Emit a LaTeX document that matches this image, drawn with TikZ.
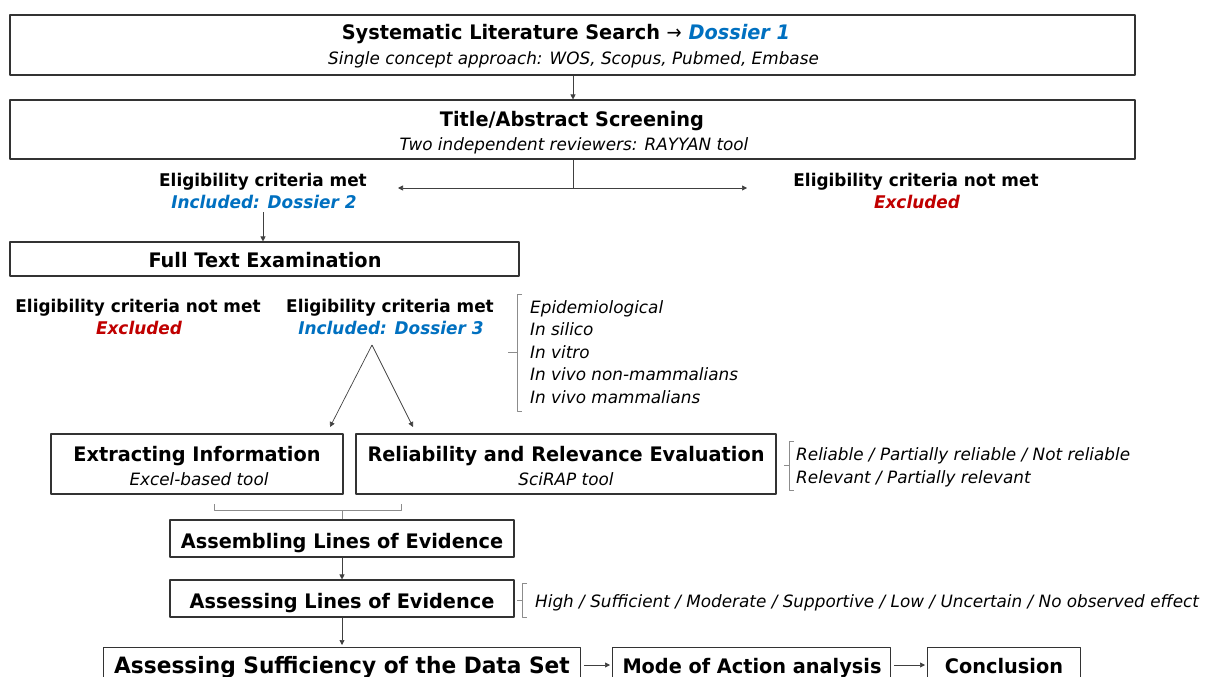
\documentclass[tikz,border=0pt]{standalone}
\usepackage{fontspec}
\setmainfont[FakeStretch=0.9,
  BoldFeatures={FakeStretch=0.965},
  ItalicFeatures={FakeStretch=0.99},
  BoldItalicFeatures={FakeStretch=0.965}]{DejaVu Sans}
\usetikzlibrary{arrows.meta,positioning}
\definecolor{dossierblue}{HTML}{0070C0}
\definecolor{exclred}{HTML}{C00000}
\newcommand\ttlfont{\fontsize{20}{24}\selectfont\bfseries}
\newcommand\subfont{\fontsize{17}{22}\selectfont\itshape}
\newcommand\lblfont{\fontsize{17.5}{22}\selectfont\bfseries}
\begin{document}
\begin{tikzpicture}[x=1pt,y=-1pt,>={Triangle[length=5pt,width=5pt]},line join=round,
    box/.style={draw=black!80,line width=1.1pt,inner sep=0pt},
    ttl/.style={anchor=base,inner sep=0pt,font=\ttlfont},
    subt/.style={anchor=base,inner sep=0pt,font=\subfont},
    lbl/.style={anchor=base,inner sep=0pt,font=\lblfont},
    incl/.style={text=dossierblue,font=\lblfont\itshape},
    excl/.style={text=exclred,font=\lblfont\itshape},
    listtxt/.style={anchor=base west,inner sep=0pt,font=\subfont},
    flow/.style={->,draw=black!75,line width=0.7pt},
    brace/.style={draw=black!45,line width=0.8pt}]
  \useasboundingbox (0,0) rectangle (1210,677);
  \clip (0,0) rectangle (1210,677);
  % search and screening
  \node[box,minimum width=1125,minimum height=60] (search) at (572.5,45) {};
  \node[ttl] (searcht) at (566,40) {Systematic Literature Search {\mdseries→} \textcolor{dossierblue}{\itshape Dossier 1}};
  \node[subt] (searchs) at (573.5,64) {Single concept approach: WOS, Scopus, Pubmed, Embase};
  \node[box,minimum width=1125,minimum height=59] (screen) at (572.5,129.5) {};
  \node[ttl] (screent) at (572,126) {Title/Abstract Screening};
  \node[subt] (screens) at (574,150) {Two independent reviewers: RAYYAN tool};
  \draw[flow] (search.south -| 573,0) -- (screen.north -| 573,0);
  % first split
  \node[lbl] (met1) at (263,186) {Eligibility criteria met};
  \node[lbl,incl] (inc1) at (264,208) {Included: Dossier 2};
  \node[lbl] (notmet1) at (916,186) {Eligibility criteria not met};
  \node[lbl,excl] (exc1) at (917,208) {Excluded};
  \coordinate (split) at (573,188);
  \coordinate (splitL) at (398,188);
  \coordinate (splitR) at (747,188);
  \draw[draw=black!75,line width=0.7pt] (screen.south -| split) -- (split);
  \draw[flow] (split) -- (splitL);
  \draw[flow] (split) -- (splitR);
  % full text
  \node[box,minimum width=509,minimum height=34] (full) at (264.5,259) {};
  \node[ttl] (fullt) at (265,267) {Full Text Examination};
  \draw[flow] (inc1.south -| 263,0) ++(0,4) -- (full.north -| 263,0);
  \node[lbl] (notmet2) at (138,312) {Eligibility criteria not met};
  \node[lbl,excl] (exc2) at (139,334) {Excluded};
  \node[lbl] (met2) at (390,312) {Eligibility criteria met};
  \node[lbl,incl] (inc2) at (391,334) {Included: Dossier 3};
  % study types
  \draw[brace] (522,294) -- (517,294) -- (517,411) -- (522,411) (517,352) -- (508,352);
  \foreach \t [count=\i] in {Epidemiological,In silico,In vitro,In vivo non-mammalians,In vivo mammalians}
    \node[listtxt] (type\i) at (530,313+22.5*\i-22.5) {\t};
  % extraction and evaluation
  \node[box,minimum width=292,minimum height=60] (extract) at (197,464) {};
  \node[ttl] (extractt) at (197,461) {Extracting Information};
  \node[subt] (extracts) at (199,485) {Excel-based tool};
  \node[box,minimum width=420,minimum height=60] (rel) at (566,464) {};
  \node[ttl] (relt) at (566,461) {Reliability and Relevance Evaluation};
  \node[subt] (rels) at (566,485) {SciRAP tool};
  \coordinate (fork) at (372,345);
  \coordinate (forkL) at (330,427);
  \coordinate (forkR) at (413,427);
  \draw[flow] (fork) -- (forkL);
  \draw[flow] (fork) -- (forkR);
  \draw[brace] (794,441) -- (789,441) -- (789,490) -- (794,490) (789,465) -- (784,465);
  \node[listtxt] (relA) at (796,460) {Reliable / Partially reliable / Not reliable};
  \node[listtxt] (relB) at (796,483) {Relevant / Partially relevant};
  % lines of evidence
  \node[box,minimum width=344,minimum height=37] (assem) at (342,538.5) {};
  \node[ttl] (assemt) at (342,548) {Assembling Lines of Evidence};
  \draw[brace] (214,504) -- (214,510) -- (401,510) -- (401,504) (342,510) -- (assem.north -| 342,0);
  \node[box,minimum width=344,minimum height=37] (assess) at (342,598.5) {};
  \node[ttl] (assesst) at (342,608) {Assessing Lines of Evidence};
  \draw[flow] (assem.south -| 342,0) -- (assess.north -| 342,0);
  \draw[brace] (527,583) -- (522,583) -- (522,617) -- (527,617) (522,600) -- (517,600);
  \node[listtxt] (levels) at (535,607) {High / Sufficient / Moderate / Supportive / Low / Uncertain / No observed effect};
  % sufficiency and conclusion
  \node[box,minimum width=477,minimum height=54,anchor=north west] (suff) at (103,647) {};
  \node[ttl,font=\fontsize{22.5}{26}\selectfont\bfseries] (sufft) at (342,673) {Assessing Sufficiency of the Data Set};
  \node[box,minimum width=278,minimum height=54,anchor=north west] (moa) at (612,647) {};
  \node[ttl] (moat) at (752,673) {Mode of Action analysis};
  \node[box,minimum width=153,minimum height=54,anchor=north west] (concl) at (927,647) {};
  \node[ttl] (conclt) at (1004,673) {Conclusion};
  \draw[flow] (assess.south -| 342,0) -- ([yshift=2pt]suff.north -| 342,0);
  \draw[flow] ([xshift=3pt]suff.east |- 0,665) -- ([xshift=-2pt]moa.west |- 0,665);
  \draw[flow] ([xshift=3pt]moa.east |- 0,665) -- ([xshift=-2pt]concl.west |- 0,665);
\end{tikzpicture}
\end{document}
